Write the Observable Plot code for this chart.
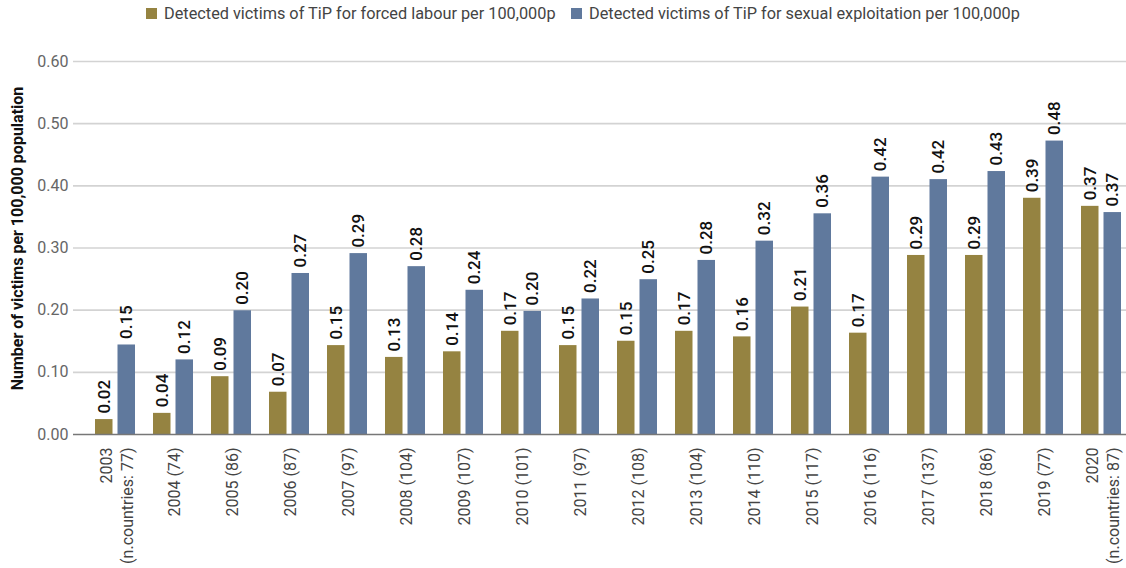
<!DOCTYPE html>
<html>
<head>
<meta charset="utf-8">
<script src="https://cdn.jsdelivr.net/npm/d3@7"></script>
<script src="https://cdn.jsdelivr.net/npm/@observablehq/plot@0.6"></script>
<style>
  html, body { margin: 0; padding: 0; background: #fff; }
  body { width: 1126px; height: 568px; overflow: hidden; font-family: Roboto, "Noto Sans", sans-serif; }
  #legend { height: 28px; position: relative; font-size: 16.3px; color: #444; }
  .item { position: absolute; top: 4px; display: flex; align-items: center; white-space: nowrap; }
  .sw { width: 11px; height: 11px; margin-right: 7px; }
</style>
</head>
<body>
<div id="legend"></div>
<div id="chart"></div>
<script>
const years = ["2003","2004","2005","2006","2007","2008","2009","2010","2011","2012","2013","2014","2015","2016","2017","2018","2019","2020"];
const yearLabels = ["2003\n(n.countries: 77)","2004 (74)","2005 (86)","2006 (87)","2007 (97)","2008 (104)","2009 (107)","2010 (101)","2011 (97)","2012 (108)","2013 (104)","2014 (110)","2015 (117)","2016 (116)","2017 (137)","2018 (86)","2019 (77)","2020\n(n.countries: 87)"];
const seriesNames = ["Detected victims of TiP for forced labour per 100,000p", "Detected victims of TiP for sexual exploitation per 100,000p"];
const forcedLabour = [0.024,0.034,0.093,0.068,0.143,0.124,0.133,0.166,0.143,0.150,0.166,0.157,0.205,0.163,0.288,0.288,0.380,0.367];
const sexualExpl   = [0.144,0.120,0.199,0.259,0.291,0.270,0.232,0.198,0.218,0.249,0.280,0.311,0.355,0.414,0.410,0.423,0.472,0.357];
const forcedLabels = ["0.02","0.04","0.09","0.07","0.15","0.13","0.14","0.17","0.15","0.15","0.17","0.16","0.21","0.17","0.29","0.29","0.39","0.37"];
const sexualLabels = ["0.15","0.12","0.20","0.27","0.29","0.28","0.24","0.20","0.22","0.25","0.28","0.32","0.36","0.42","0.42","0.43","0.48","0.37"];
const yTicks = [0, 0.1, 0.2, 0.3, 0.4, 0.5, 0.6];
const colors = ["#958341", "#60799d"];

const fl = years.map((y, i) => ({year: y, value: forcedLabour[i], label: forcedLabels[i]}));
const se = years.map((y, i) => ({year: y, value: sexualExpl[i], label: sexualLabels[i]}));
const xl = years.map((y, i) => ({year: y, label: yearLabels[i]}));

// legend
const legend = document.getElementById("legend");
[[146, 0], [571, 1]].forEach(([left, i]) => {
  const d = document.createElement("div");
  d.className = "item";
  d.style.left = left + "px";
  d.innerHTML = `<span class="sw" style="background:${colors[i]}"></span><span>${seriesNames[i]}</span>`;
  legend.appendChild(d);
});

const H = 540;
const half = 22.5;
const chart = Plot.plot({
  width: 1126,
  height: H,
  marginLeft: 73,
  marginRight: 0,
  marginTop: 33,
  marginBottom: 134,
  style: {fontFamily: "Roboto, sans-serif", background: "#fff"},
  x: {domain: years, range: [92.3, 1122.6], paddingInner: 0.313, paddingOuter: 0, axis: null},
  y: {domain: [0, 0.6], ticks: yTicks, axis: null},
  marks: [
    Plot.ruleY(yTicks.filter(t => t > 0), {stroke: "#d3d3d3", strokeWidth: 1.6}),
    Plot.text(yTicks, {x: null, y: d => d, text: d => d.toFixed(2), frameAnchor: "left", textAnchor: "end", dx: -5, fill: "#666", fontSize: 16}),
    Plot.barY(fl, {x: "year", y: "value", fill: colors[0], insetRight: half}),
    Plot.barY(se, {x: "year", y: "value", fill: colors[1], insetLeft: half}),
    Plot.ruleY([0], {stroke: "#777", strokeWidth: 1.6}),
    Plot.text(fl, {x: "year", y: "value", text: "label", rotate: -90, textAnchor: "start", lineAnchor: "middle", dx: -11.25, dy: -6, fill: "#111", fontSize: 17, fontWeight: 500}),
    Plot.text(se, {x: "year", y: "value", text: "label", rotate: -90, textAnchor: "start", lineAnchor: "middle", dx: 11.25, dy: -6, fill: "#111", fontSize: 17, fontWeight: 500}),
    Plot.text(xl, {x: "year", text: "label", frameAnchor: "bottom", rotate: -90, textAnchor: "end", lineAnchor: "middle", lineHeight: 1.35, dy: 13, fill: "#444", fontSize: 16}),
    Plot.text(["Number of victims per 100,000 population"], {frameAnchor: "left", rotate: -90, textAnchor: "middle", dx: -56, dy: -9.5, fill: "#111", fontSize: 16, fontWeight: "bold"})
  ]
});
document.getElementById("chart").appendChild(chart);
</script>
</body>
</html>
